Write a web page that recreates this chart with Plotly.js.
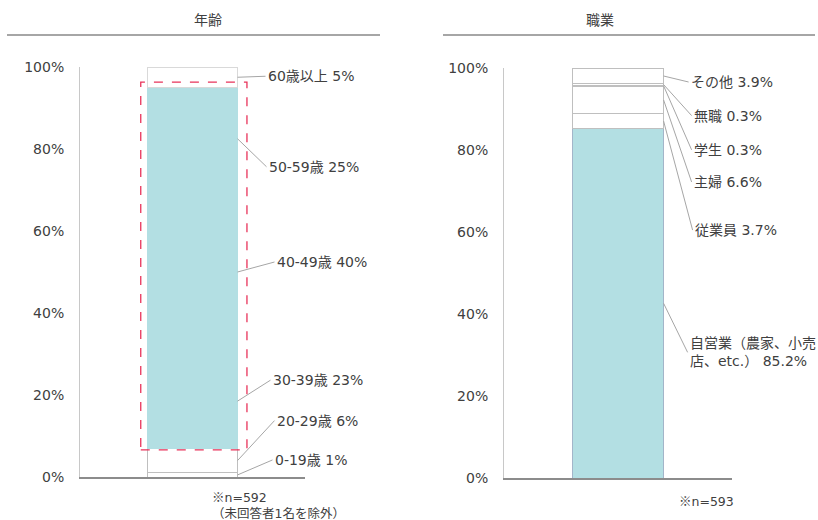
<!DOCTYPE html>
<html>
<head>
<meta charset="utf-8">
<script src="https://cdn.plot.ly/plotly-3.0.1.min.js"></script>
<style>html,body{margin:0;padding:0;background:#fff;}#chart{width:818px;height:520px;}</style>
</head>
<body>
<div id="chart"></div>
<script>
// ---- data ----
const ageLabels = ['0-19歳', '20-29歳', '30-39歳', '40-49歳', '50-59歳', '60歳以上'];
const ageValues = [1, 6, 23, 40, 25, 5];
const jobLabels = ['自営業（農家、小売<br>店、etc.）', '従業員', '主婦', '学生', '無職', 'その他'];
const jobValues = [85.2, 3.7, 6.6, 0.3, 0.3, 3.9];
const yTickVals = [0, 20, 40, 60, 80, 100];
const yTickText = ['0%', '20%', '40%', '60%', '80%', '100%'];
const chartTitles = ['年齢', '職業'];
const notes = ['<span style="font-family:\'Noto Sans CJK JP\'">※</span>n=592<br>（未回答者1名を除外）',
               '<span style="font-family:\'Noto Sans CJK JP\'">※</span>n=593'];

// ---- styles ----
const TEAL = '#b3dfe3';
const ageFill = ['#ffffff', '#ffffff', TEAL, TEAL, TEAL, '#ffffff'];
const ageLine = ['#bfbfbf', '#bfbfbf', TEAL, TEAL, TEAL, '#d9d9d9'];
const jobFill = [TEAL, '#ffffff', '#ffffff', '#ffffff', '#ffffff', '#ffffff'];
const jobLine = ['#a3b5c9', '#bfbfbf', '#bfbfbf', '#bfbfbf', '#bfbfbf', '#bfbfbf'];
// label offsets (pixels) from bar edge at segment middle
const ageOff = [[35, -15], [37, -40], [33, -21], [37, -10], [29, 28], [28, -1]];
const jobOff = [[24, 49], [29, 109], [28, 82], [28, 64], [28, 31], [25, 6]];
const FONT = '"DejaVu Sans", "Noto Sans CJK JP", sans-serif';
const TXT = '#404040';
const BARW = 0.4;

const traces = [];
const annotations = [];
function addStack(labels, values, fills, lines, offs, xa, ya, cat) {
  let cum = 0;
  labels.forEach((lab, i) => {
    traces.push({
      type: 'bar', x: [cat], y: [values[i]], xaxis: xa, yaxis: ya,
      width: BARW, marker: {color: fills[i], line: {color: lines[i], width: 1}},
      hoverinfo: 'skip', showlegend: false
    });
    const mid = cum + values[i] / 2;
    cum += values[i];
    annotations.push({
      xref: xa, yref: ya, x: BARW / 2, y: mid,
      text: lab + ' ' + values[i] + '%',
      showarrow: true, arrowhead: 0, arrowwidth: 1, arrowcolor: '#a6a6a6',
      ax: offs[i][0], ay: offs[i][1], xanchor: 'left', yanchor: 'middle', align: 'left',
      font: {family: FONT, size: 14, color: TXT}
    });
  });
}
addStack(ageLabels, ageValues, ageFill, ageLine, ageOff, 'x', 'y', 'a');
addStack(jobLabels, jobValues, jobFill, jobLine, jobOff, 'x2', 'y2', 'b');

const W = 818, H = 520;
function yax(top, bottom) {
  return {
    domain: [1 - bottom / H, 1 - top / H], range: [0, 100], fixedrange: true,
    tickvals: yTickVals, ticktext: yTickText, showgrid: false, zeroline: false,
    showline: true, linecolor: '#c8c8c8', linewidth: 1,
    ticks: 'outside', ticklen: 12, tickcolor: 'rgba(0,0,0,0)',
    tickfont: {family: FONT, size: 14, color: TXT}
  };
}
function xax(l, r) {
  return {
    domain: [l / W, r / W], range: [-0.5, 0.5], showticklabels: false, ticks: '',
    showgrid: false, zeroline: false, showline: true, linecolor: '#8c8c8c', linewidth: 1.5,
    fixedrange: true
  };
}

// titles, notes
annotations.push({xref: 'paper', yref: 'paper', x: 192 / W, y: 1 - 20 / H, yanchor: 'middle', text: chartTitles[0],
  showarrow: false, font: {family: FONT, size: 14, color: TXT}});
annotations.push({xref: 'paper', yref: 'paper', x: 616 / W, y: 1 - 20 / H, yanchor: 'middle', text: chartTitles[1],
  showarrow: false, font: {family: FONT, size: 14, color: TXT}});
annotations.push({xref: 'paper', yref: 'paper', x: 210 / W, y: 1 - 504 / H, yanchor: 'middle', text: notes[0],
  showarrow: false, xanchor: 'left', align: 'left', font: {family: FONT, size: 12.5, color: TXT}});
annotations.push({xref: 'paper', yref: 'paper', x: 677 / W, y: 1 - 500 / H, yanchor: 'middle', text: notes[1],
  showarrow: false, xanchor: 'left', align: 'left', font: {family: FONT, size: 12.5, color: TXT}});

// dashed emphasis box around the 30-59 group
const boxBottom = ageValues[0] + ageValues[1] - 0.4;
const boxTop = 100 - ageValues[5] + 1.3;
const shapes = [
  {type: 'line', xref: 'paper', yref: 'paper', x0: 7 / W, x1: 380 / W, y0: 1 - 35 / H, y1: 1 - 35 / H,
   line: {color: '#a6a6a6', width: 2}},
  {type: 'line', xref: 'paper', yref: 'paper', x0: 443 / W, x1: 815 / W, y0: 1 - 35 / H, y1: 1 - 35 / H,
   line: {color: '#a6a6a6', width: 2}},
  {type: 'rect', xref: 'x', yref: 'y', x0: -0.23, x1: 0.242, y0: boxBottom, y1: boxTop,
   line: {color: '#e8335a', width: 1.3, dash: 'dash'}}
];

const layout = {
  width: W, height: H, margin: {l: 0, r: 0, t: 0, b: 0},
  paper_bgcolor: '#ffffff', plot_bgcolor: 'rgba(0,0,0,0)',
  barmode: 'stack', bargap: 0, showlegend: false,
  font: {family: FONT, color: TXT},
  xaxis: xax(80, 305), yaxis: yax(67, 477),
  xaxis2: xax(504, 732), yaxis2: yax(68, 478),
  annotations: annotations, shapes: shapes
};
layout.yaxis2.anchor = 'x2';
layout.xaxis2.anchor = 'y2';
Plotly.newPlot('chart', traces, layout, {displayModeBar: false, staticPlot: true});
</script>
</body>
</html>
